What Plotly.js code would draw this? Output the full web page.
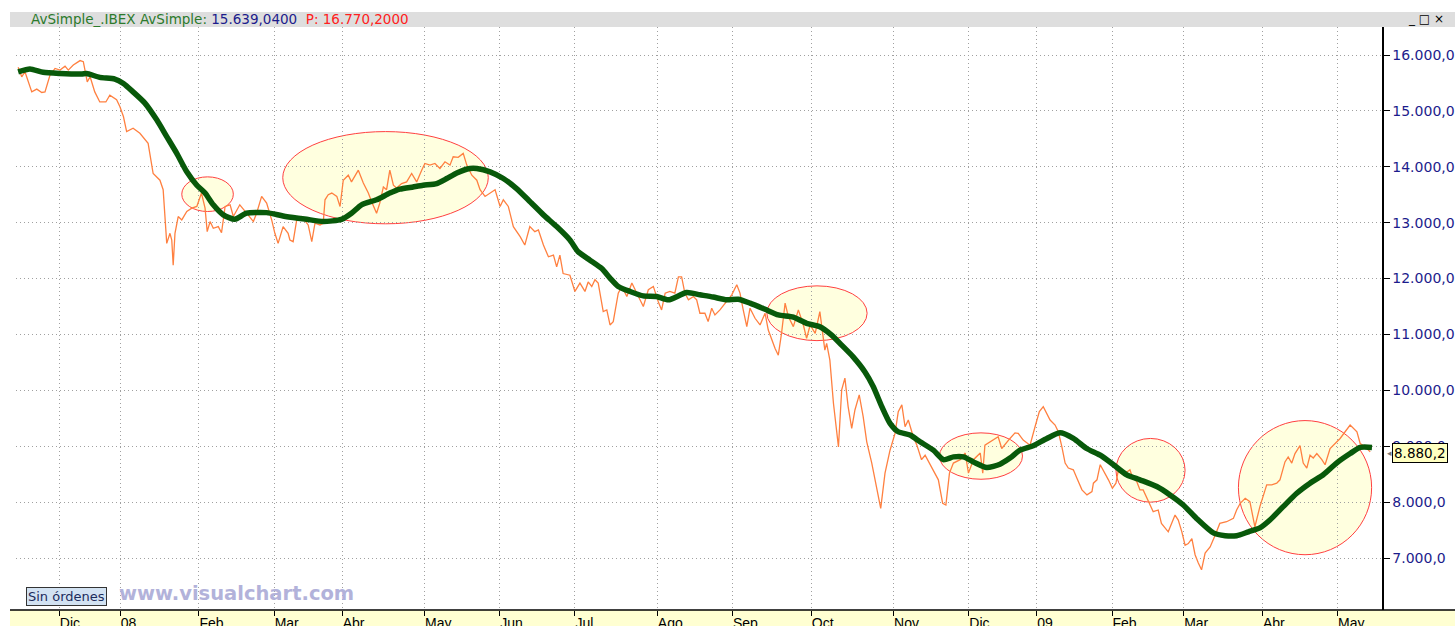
<!DOCTYPE html>
<html>
<head>
<meta charset="utf-8">
<script src="https://cdn.plot.ly/plotly-3.0.1.min.js"></script>
<style>html,body{margin:0;padding:0;background:#fff;}#chart{width:1455px;height:626px;}</style>
</head>
<body>
<div id="chart"></div>
<script>
// Session index (trading days from late Nov 2007) and IBEX close
const priceX = [-0.5,0.5,1.4,3.3,4.7,6.1,7.0,8.4,9.8,11.2,12.6,13.5,14.9,16.8,17.7,18.8,19.6,20.9,22.3,24.0,25.1,27.0,27.9,28.9,29.8,31.6,33.5,35.8,37.2,39.1,40.0,40.5,41.0,41.9,42.4,42.8,43.3,44.2,45.2,46.6,48.0,49.4,50.7,51.7,52.3,53.1,54.0,55.4,56.3,57.3,58.7,59.6,61.4,63.3,65.2,66.1,67.5,68.9,70.3,71.2,72.1,73.5,74.9,75.4,76.3,77.3,78.7,80.5,81.5,82.4,83.8,84.7,85.2,86.1,87.1,88.5,89.4,90.3,91.7,92.6,94.5,95.9,97.3,98.2,99.6,100.5,101.5,102.4,103.3,104.3,105.2,106.6,108.0,109.4,110.8,112.2,113.1,114.5,115.9,117.3,118.7,120.1,121.0,122.4,123.8,124.8,126.2,127.6,128.5,129.9,131.3,132.7,134.1,135.0,136.4,137.8,139.7,141.0,142.4,143.8,144.8,146.2,147.6,149.0,149.9,150.8,151.7,153.6,155.0,156.4,157.8,158.7,159.7,160.6,161.5,162.9,163.9,164.8,165.7,167.1,168.1,169.5,170.9,172.2,174.1,175.5,176.9,178.3,179.2,180.2,181.5,182.9,183.9,184.8,185.7,186.7,188.1,189.0,189.9,191.3,192.2,193.2,194.1,195.5,196.9,198.8,200.2,201.1,202.0,203.0,203.9,205.3,206.7,208.1,209.0,210.0,210.9,211.8,212.7,213.7,214.6,216.0,217.4,218.8,219.7,220.7,222.1,223.4,223.9,224.4,224.8,225.3,226.2,227.2,228.6,229.5,230.4,231.3,232.3,233.2,234.4,235.5,236.5,237.9,239.3,240.4,241.6,243.0,244.4,245.3,246.3,247.2,248.1,249.5,250.5,251.8,252.8,254.2,255.6,256.5,257.7,258.6,259.6,260.7,262.6,264.0,264.9,266.3,268.2,268.9,269.5,270.9,272.3,273.2,274.2,275.6,276.5,277.9,278.8,280.2,282.1,283.5,284.7,285.8,286.8,287.7,289.1,290.0,291.0,291.9,292.8,294.2,295.2,296.6,298.0,299.4,299.8,300.8,301.7,302.8,304.0,305.1,306.1,306.7,308.1,310.0,310.8,311.9,312.8,313.7,315.1,316.5,317.9,318.8,320.7,322.6,323.5,324.5,325.4,326.3,327.3,328.2,329.1,330.0,331.0,332.4,333.8,335.1,337.0,338.9,339.8,340.8,342.2,343.5,344.9,346.3,348.2,349.6,351.0,351.9,353.3,354.2,355.2,356.1,357.5,358.4,359.4,360.3,361.2,362.2,363.6,364.5,365.9,367.3,368.7,370.1,371.5,373.4,374.3,375.7,377.1];
const priceY = [15780,15610,15700,15340,15390,15330,15340,15640,15760,15730,15800,15730,15820,15900,15880,15520,15610,15340,15160,15160,15280,15200,15080,14900,14630,14690,14600,14420,13880,13760,13590,13170,12630,12810,12690,12240,12810,13110,13050,13200,13260,13290,13530,13260,12840,13020,12900,12930,12820,13290,13320,13110,13320,13170,13020,13170,13470,13350,13050,12810,12630,12930,12810,12690,12660,13050,13110,12960,12660,12990,12960,12990,13410,13500,13530,13470,13290,13760,13850,13730,13940,13710,13530,13380,13170,13350,13640,13590,13940,13670,13620,13700,13730,13880,13730,13940,14060,14030,14060,13970,14090,14030,14180,14170,14240,14030,13850,13760,13590,13470,13530,13590,13290,13410,13290,12930,12750,12600,12930,12840,12870,12600,12390,12420,12210,12420,12090,12060,11770,11920,11770,11940,11860,11980,11920,11410,11440,11170,11230,11740,11860,11680,11920,11740,11500,11800,11860,11580,11440,11740,11770,11740,12030,12030,11740,11620,11680,11620,11380,11380,11230,11470,11350,11440,11560,11710,11890,11740,11440,11140,11470,11290,11170,11380,11080,10900,10750,10630,11020,11560,11320,11140,11440,11170,10930,11170,11020,11410,11140,10900,10720,10840,10540,9770,8990,10010,10220,9710,9320,9650,9920,9530,9080,8700,8220,7890,8520,8930,9230,9620,9740,9350,9470,9170,9020,8760,8840,8670,8490,8400,7980,7950,8520,8700,8760,8880,8520,8760,8880,8520,9020,9080,9140,9170,8960,9080,9140,9240,9230,9110,9020,9350,9620,9710,9590,9470,9380,9260,8990,8700,8610,8580,8430,8220,8130,8190,8340,8400,8670,8550,8400,8250,8340,8550,8490,8580,8430,8370,8220,8220,8010,7830,7860,7620,7470,7770,7680,7470,7230,7260,7350,7060,6910,6790,7090,7200,7410,7620,7650,7710,7860,7980,8070,8010,7560,7920,8310,8310,8340,8400,8720,8810,8700,8870,9010,8700,8610,8840,8790,8870,8760,8670,8960,9050,9140,9260,9380,9260,9050,8990,8900];

// Simple moving average (AvSimple)
const smaX = [-0.5,2.8,6.5,11.2,17.2,18.6,22.3,26.5,28.9,31.6,34.9,38.2,41.0,43.8,46.6,49.4,51.7,54.0,56.8,60.0,63.3,68.9,73.5,77.7,80.1,84.7,89.8,92.6,95.4,99.6,103.3,106.1,109.8,112.6,116.4,119.2,122.0,125.7,127.6,131.3,135.0,138.7,142.4,146.2,149.9,153.6,155.9,159.2,162.5,164.8,167.1,170.4,174.1,177.8,181.1,186.2,189.9,193.6,197.4,200.6,203.9,208.1,211.8,216.0,219.7,223.4,226.7,229.5,232.7,236.0,238.3,240.7,243.0,245.3,248.6,251.4,255.1,257.9,260.7,263.5,266.3,270.0,273.7,276.5,279.3,283.0,286.8,290.5,294.2,297.9,301.7,305.4,309.1,312.8,317.5,321.2,324.9,328.6,333.3,336.6,339.8,343.1,346.3,349.1,352.8,356.6,360.3,364.0,367.7,371.5,374.3,377.6];
const smaY = [15700,15750,15690,15670,15660,15670,15600,15570,15490,15340,15140,14840,14540,14240,13910,13670,13530,13320,13140,13060,13170,13180,13120,13080,13060,13020,13060,13170,13320,13410,13530,13600,13640,13670,13700,13790,13890,13970,13970,13910,13790,13610,13380,13140,12930,12690,12480,12330,12180,12010,11860,11770,11690,11680,11620,11750,11710,11670,11620,11630,11560,11450,11350,11310,11200,11140,10990,10810,10600,10330,10070,9710,9410,9260,9200,9080,8930,8760,8810,8810,8720,8620,8680,8790,8930,9010,9140,9240,9140,8960,8840,8670,8490,8400,8280,8130,7950,7710,7450,7400,7400,7470,7540,7680,7920,8160,8340,8490,8700,8870,8980,8980];

// Month ticks (session index of the first session of each month)
const monthTicks = [11,28,50,71,90,113,134,155,178,199,221,244,265,284,305,325,347,368];
const monthLabels = ['Dic','08','Feb','Mar','Abr','May','Jun','Jul','Ago','Sep','Oct','Nov','Dic','09','Feb','Mar','Abr','May'];

// Highlighted zones (ellipses)
const zoneX0 = [45.2, 73.4, 208.6, 256.8, 306.1, 340.3];
const zoneX1 = [59.6, 130.8, 236.6, 280.0, 325.4, 377.5];
const zoneY0 = [13200, 12980, 10890, 8410, 8000, 7060];
const zoneY1 = [13820, 14630, 11870, 9240, 9140, 9460];

const lastPrice = 8880.2;

const shapes = [];
// header bar
shapes.push({type:'rect', xref:'paper', yref:'paper', x0:-0.0044, x1:1.06, y0:1.0, y1:1.0257, fillcolor:'#dedede', line:{width:0}, layer:'below'});
// bottom date band
shapes.push({type:'rect', xref:'paper', yref:'paper', x0:-0.0044, x1:1.06, y0:-0.06, y1:0, fillcolor:'#ffffd2', line:{width:0}, layer:'below'});
shapes.push({type:'line', xref:'paper', yref:'paper', x0:-0.0044, x1:1.06, y0:0, y1:0, line:{color:'#000', width:1.5}});
for (let i = 0; i < zoneX0.length; i++) {
  shapes.push({type:'circle', xref:'x', yref:'y', x0:zoneX0[i], x1:zoneX1[i], y0:zoneY0[i], y1:zoneY1[i],
    fillcolor:'#ffffdf', line:{color:'#ff4040', width:1}, layer:'below'});
}

const annotations = [
  {xref:'paper', yref:'paper', x:0.0095, y:1.0129, xanchor:'left', yanchor:'middle', showarrow:false,
   text:'<span style="color:#2c7a2c">AvSimple_.IBEX AvSimple:</span> <span style="color:#1c1c8c">15.639,0400</span>  <span style="color:#ff2020">P: 16.770,2000</span>',
   font:{family:'DejaVu Sans, Arial', size:13.5}},
  {xref:'paper', yref:'paper', x:1.0175, y:1.0129, xanchor:'left', yanchor:'middle', showarrow:false,
   text:'_ □ ×', font:{family:'DejaVu Sans', size:12, color:'#000'}},
  {xref:'paper', yref:'paper', x:0.0739, y:0.029, xanchor:'left', yanchor:'middle', showarrow:false,
   text:'<b>www.visualchart.com</b>', font:{family:'DejaVu Sans, Arial', size:19.5, color:'#b2b2da'}},
  {xref:'paper', yref:'paper', x:0.0373, y:0.024, xanchor:'center', yanchor:'middle', showarrow:false,
   text:'Sin órdenes', bgcolor:'#d2e2f2', bordercolor:'#333', borderwidth:1, borderpad:1,
   font:{family:'DejaVu Sans, Arial', size:13, color:'#1c2c5c'}},
  {xref:'paper', yref:'y', x:1, y:lastPrice, xanchor:'left', yanchor:'middle', xshift:3, showarrow:false,
   text:'◂', font:{family:'DejaVu Sans', size:9, color:'#777'}},
  {xref:'paper', yref:'y', x:1, y:lastPrice, xanchor:'left', yanchor:'middle', xshift:10, showarrow:false,
   text:'8.880,2', bgcolor:'#ffffc0', bordercolor:'#000', borderwidth:1, borderpad:1,
   font:{family:'DejaVu Sans', size:13.5, color:'#000'}}
];

const traces = [
  {x:priceX, y:priceY, type:'scatter', mode:'lines', line:{color:'#ff8040', width:1.3}, hoverinfo:'skip'},
  {x:smaX, y:smaY, type:'scatter', mode:'lines', line:{color:'#08590a', width:5.5, shape:'spline', smoothing:0.6}, hoverinfo:'skip'}
];

const layout = {
  width:1455, height:626,
  margin:{l:16, r:73, t:27, b:16, pad:0},
  paper_bgcolor:'#ffffff', plot_bgcolor:'#ffffff',
  separators:',.',
  showlegend:false,
  xaxis:{range:[-1.1,380.4], tickmode:'array', tickvals:monthTicks, ticktext:monthLabels,
    showgrid:true, gridcolor:'#a0a0a0', griddash:'1px,3px', gridwidth:1,
    ticks:'outside', ticklen:5, tickcolor:'#000', tickwidth:1,
    ticklabelposition:'outside right',
    tickfont:{family:'Liberation Sans, Arial', size:14, color:'#000'},
    showline:false, zeroline:false, fixedrange:true},
  yaxis:{side:'right', range:[6071,16501], tick0:0, dtick:1000, tickformat:',.1f',
    showgrid:true, gridcolor:'#a0a0a0', griddash:'1px,3px', gridwidth:1,
    ticks:'outside', ticklen:6, tickcolor:'#000',
    showline:true, linecolor:'#000', linewidth:1.5, mirror:false,
    tickfont:{family:'DejaVu Sans, Arial', size:14, color:'#1c1c8c'},
    zeroline:false, fixedrange:true},
  shapes:shapes,
  annotations:annotations
};

Plotly.newPlot('chart', traces, layout, {displayModeBar:false, staticPlot:true});
</script>
</body>
</html>
